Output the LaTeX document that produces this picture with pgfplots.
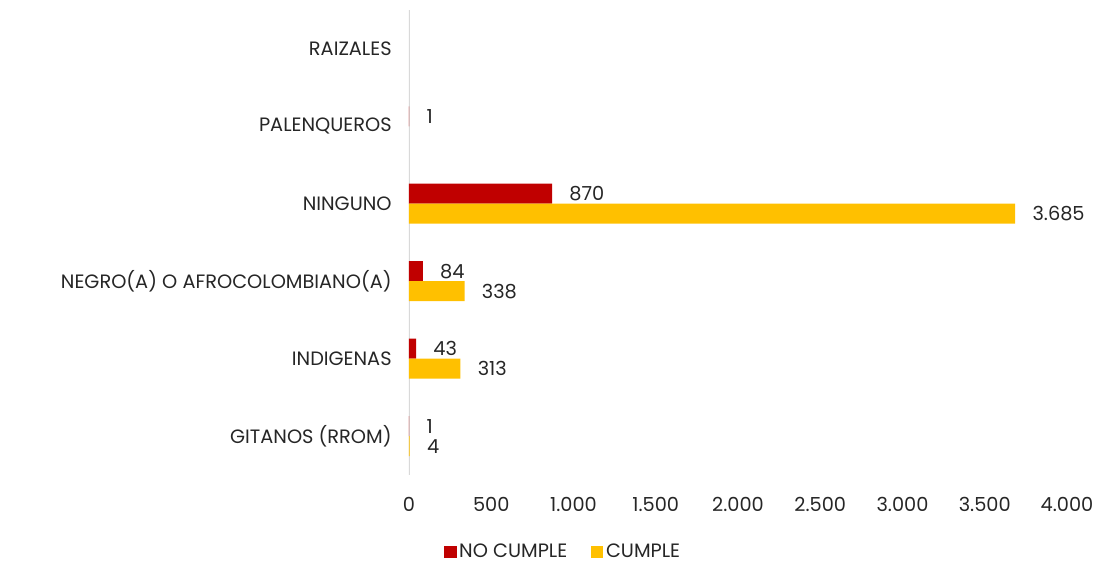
\documentclass[border=0pt]{standalone}
\usepackage{pgfplots}
\pgfplotsset{compat=1.18}
\usepackage{fontspec}
\setmainfont{Poppins}
\definecolor{nocumple}{HTML}{C00000}
\definecolor{cumple}{HTML}{FFC000}
\definecolor{txt}{HTML}{262626}
\definecolor{axisgray}{HTML}{D9D9D9}

\begin{document}
\fontsize{14.5pt}{17pt}\selectfont
\begin{tikzpicture}
\path[use as bounding box] (-306.75pt,-66pt) rectangle (519pt,356.25pt);
\begin{axis}[
  at={(0,0)}, anchor=south west,
  scale only axis,
  width=493.5pt, height=348.75pt,
  xbar, bar width=15pt,
  xmin=0, xmax=4000,
  ymin=-0.5, ymax=5.5,
  xtick={0,500,...,4000},
  ytick={0,1,2,3,4,5},
  yticklabels={GITANOS (RROM),INDIGENAS,NEGRO(A) O AFROCOLOMBIANO(A),NINGUNO,PALENQUEROS,RAIZALES},
  axis line style={draw=none},
  axis x line*=bottom,
  axis y line*=left,
  major tick length=0pt,
  tick label style={text=txt, font=\fontsize{14.5pt}{17pt}\selectfont},
  xticklabel style={yshift=-12pt},
  yticklabel style={xshift=-8pt},
  /pgf/number format/assume math mode=true,
  /pgf/number format/1000 sep={.},
  nodes near coords,
  nodes near coords style={text=txt, font=\fontsize{14.5pt}{17pt}\selectfont, /pgf/number format/1000 sep={.}, xshift=8pt},
  legend style={at={(0.235,-0.165)}, anchor=center, draw=none, legend columns=2,
    font=\fontsize{14.5pt}{17pt}\selectfont, text=txt,
    /tikz/every even column/.append style={column sep=16pt}},
  legend image code/.code={\fill[#1] (0.05cm,-0.17cm) rectangle (0.37cm,0.15cm);},
]
\draw[axisgray, line width=1.2pt] (axis cs:0,-0.5) -- (axis cs:0,5.5);
\addplot[fill=nocumple, draw=none, bar shift=7.5pt] coordinates {(1,0) (43,1) (84,2) (870,3) (1,4)};
\addlegendentry{NO CUMPLE}
\addplot[fill=cumple, draw=none, bar shift=-7.5pt] coordinates {(4,0) (313,1) (338,2) (3685,3)};
\addlegendentry{CUMPLE}
\end{axis}
\end{tikzpicture}
\end{document}
